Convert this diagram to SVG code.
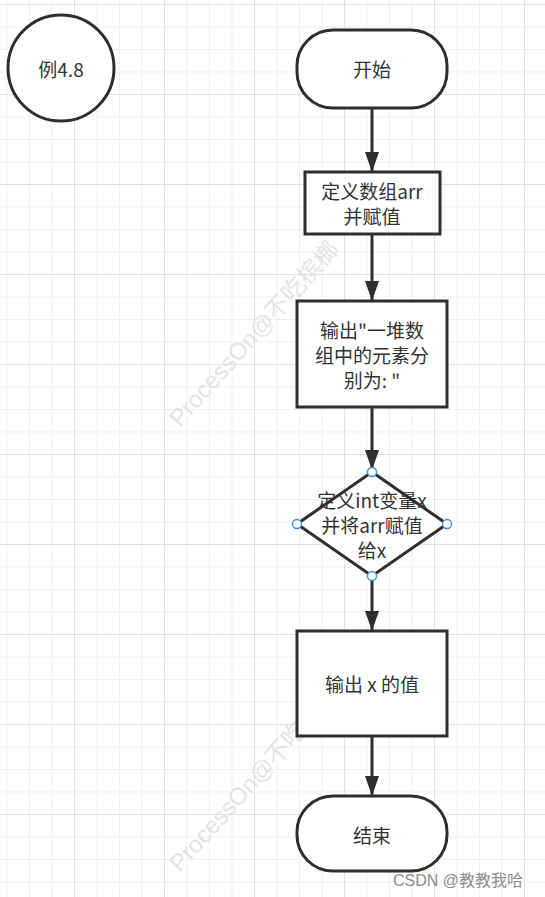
<svg xmlns="http://www.w3.org/2000/svg" width="545" height="897" viewBox="0 0 545 897">
<style>
.shape{fill:#ffffff;stroke:#2e2e2e;stroke-width:3}
.lbl{font-family:"Noto Sans CJK SC","Microsoft YaHei","Liberation Sans",sans-serif;font-size:19px;fill:#333333;text-anchor:middle;dominant-baseline:central}
.conn{stroke:#2e2e2e;stroke-width:3;fill:none}
.handle{fill:#ffffff;stroke:#3f88dc;stroke-width:1.3}
.wm{font-family:"Liberation Sans","Noto Sans CJK SC",sans-serif;font-size:24px;fill:#dcdcdc;opacity:0.75}
</style>
<defs>
<pattern id="minor" x="-16" y="4" width="22.5" height="22.5" patternUnits="userSpaceOnUse">
<path d="M0 0 H22.5 M0 0 V22.5" stroke="#ececec" stroke-width="1.5" fill="none"/>
</pattern>
<pattern id="major" x="-16" y="4" width="90" height="90" patternUnits="userSpaceOnUse">
<path d="M0 0 H90 M0 0 V90" stroke="#e2e2e2" stroke-width="2" fill="none"/>
</pattern>
<marker id="arrow" viewBox="0 0 20 14" refX="20" refY="7" markerWidth="20" markerHeight="14" markerUnits="userSpaceOnUse" orient="auto">
<path d="M0 0 L20 7 L0 14 Z" fill="#2e2e2e"/>
</marker>
</defs>
<rect width="545" height="897" fill="#ffffff"/>
<rect width="545" height="897" fill="url(#minor)"/>
<rect width="545" height="897" fill="url(#major)"/>

<g id="watermarks">
<text class="wm" transform="translate(180,428) rotate(-48)">ProcessOn@不吃槟榔</text>
<text class="wm" transform="translate(180,873) rotate(-48)">ProcessOn@不吃槟榔</text>
</g>

<g id="connectors">
<line class="conn" x1="372" y1="108" x2="372" y2="172" marker-end="url(#arrow)"/>
<line class="conn" x1="372" y1="234" x2="372" y2="301" marker-end="url(#arrow)"/>
<line class="conn" x1="372" y1="407" x2="372" y2="470" marker-end="url(#arrow)"/>
<line class="conn" x1="372" y1="578" x2="372" y2="631" marker-end="url(#arrow)"/>
<line class="conn" x1="372" y1="736" x2="372" y2="796" marker-end="url(#arrow)"/>
</g>

<g id="example">
<circle class="shape" cx="61" cy="68" r="53"/>
<text class="lbl" x="61" y="68">例4.8</text>
</g>

<g id="start">
<rect class="shape" x="297" y="30" width="150" height="78" rx="36" ry="36"/>
<text class="lbl" x="372" y="68">开始</text>
</g>

<g id="define-arr">
<rect class="shape" x="305" y="172" width="135" height="62"/>
<text class="lbl" x="372" y="190.5">定义数组arr</text>
<text class="lbl" x="372" y="215.5">并赋值</text>
</g>

<g id="print-msg">
<rect class="shape" x="297" y="301" width="150" height="106"/>
<text class="lbl" x="372" y="329">输出"一堆数</text>
<text class="lbl" x="372" y="354">组中的元素分</text>
<text class="lbl" x="372" y="379">别为: "</text>
</g>

<g id="define-x">
<polygon class="shape" points="372,472 447,524 372,576 297,524"/>
<text class="lbl" x="372" y="499">定义int变量x</text>
<text class="lbl" x="372" y="524">并将arr赋值</text>
<text class="lbl" x="372" y="549">给x</text>
<circle class="handle" cx="372" cy="472" r="4.5"/>
<circle class="handle" cx="447" cy="524" r="4.5"/>
<circle class="handle" cx="372" cy="576" r="4.5"/>
<circle class="handle" cx="297" cy="524" r="4.5"/>
</g>

<g id="print-x">
<rect class="shape" x="297" y="631" width="150" height="105"/>
<text class="lbl" x="372" y="683.5">输出 x 的值</text>
</g>

<g id="end">
<rect class="shape" x="297" y="796" width="150" height="75" rx="36" ry="36"/>
<text class="lbl" x="372" y="834">结束</text>
</g>

<text x="393" y="886" font-family="Liberation Sans,Noto Sans CJK SC,sans-serif" font-size="16" fill="#8c8c8c" stroke="#ffffff" stroke-width="0.5" paint-order="stroke">CSDN @教教我哈</text>
</svg>
